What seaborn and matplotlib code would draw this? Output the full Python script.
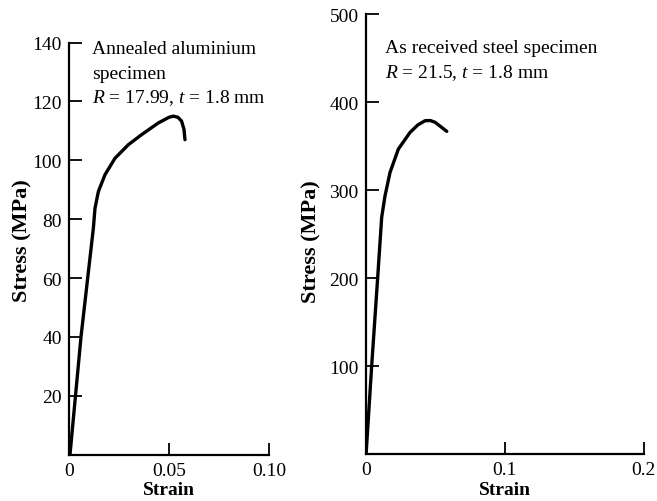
import matplotlib
matplotlib.use("Agg")
import matplotlib.pyplot as plt
import seaborn as sns
import pandas as pd

# Data
al_strain = [0.0005, 0.006, 0.0122, 0.013, 0.0147, 0.018, 0.023, 0.0297, 0.0363, 0.0447, 0.0500, 0.0522, 0.0545, 0.0563, 0.0575, 0.058]
al_stress = [0, 40, 77, 83.7, 89.4, 95.1, 100.7, 105.3, 108.7, 112.7, 114.6, 115, 114.6, 113.3, 110.5, 107]

st_strain = [0.0003, 0.0043, 0.0086, 0.0115, 0.0139, 0.0175, 0.0235, 0.0319, 0.0375, 0.0427, 0.0465, 0.0499, 0.0583]
st_stress = [0, 100, 200, 269, 293.5, 320, 346.6, 365.5, 374, 378.8, 379, 377, 366.7]

al_xticks = [0, 0.05, 0.10]
al_xticklabels = ["0", "0.05", "0.10"]
al_yticks = [20, 40, 60, 80, 100, 120, 140]
st_xticks = [0, 0.1, 0.2]
st_xticklabels = ["0", "0.1", "0.2"]
st_yticks = [100, 200, 300, 400, 500]

al_text = ["Annealed aluminium", "specimen", "$R$ = 17.99, $t$ = 1.8 mm"]
st_text = ["As received steel specimen", "$R$ = 21.5, $t$ = 1.8 mm"]

sns.set_theme(style="ticks")
plt.rcParams["font.family"] = ["Liberation Serif", "DejaVu Serif"]
plt.rcParams["mathtext.fontset"] = "custom"
plt.rcParams["mathtext.it"] = "Liberation Serif:italic"
plt.rcParams["mathtext.rm"] = "Liberation Serif"
plt.rcParams["text.color"] = "black"
plt.rcParams["axes.labelcolor"] = "black"

fig = plt.figure(figsize=(6.57, 5.02), dpi=100)
ax1 = fig.add_axes([0.105, 0.0922, 0.3044, 0.8211])
ax2 = fig.add_axes([0.5566, 0.0936, 0.4234, 0.8764])

df1 = pd.DataFrame({"strain": al_strain, "stress": al_stress})
df2 = pd.DataFrame({"strain": st_strain, "stress": st_stress})

for ax, df in [(ax1, df1), (ax2, df2)]:
    sns.lineplot(data=df, x="strain", y="stress", ax=ax, color="black", lw=2.4,
                 sort=False, estimator=None, solid_joinstyle="round", solid_capstyle="round")

for ax, xt, xtl, yt, xmax, ymax in [
    (ax1, al_xticks, al_xticklabels, al_yticks, 0.10, 140),
    (ax2, st_xticks, st_xticklabels, st_yticks, 0.2, 500),
]:
    ax.set_xlim(0, xmax)
    ax.set_ylim(0, ymax)
    ax.set_xticks(xt)
    ax.set_xticklabels(xtl)
    ax.set_yticks(yt)
    ax.set_yticklabels([str(v) for v in yt])
    sns.despine(ax=ax)
    for s in ("left", "bottom"):
        ax.spines[s].set_linewidth(1.6)
        ax.spines[s].set_color("black")
    ax.tick_params(direction="in", length=9, width=1.3, labelsize=14, pad=5,
                   colors="black", labelcolor="black")
    ax.set_xlabel("Strain", fontsize=14, fontweight="bold", labelpad=2)
    ax.set_ylabel("Stress (MPa)", fontsize=16, fontweight="bold")

ax1.yaxis.set_label_coords(-0.185, 0.521)
ax2.yaxis.set_label_coords(-0.16, 0.484)

# annotations (axes fraction, baseline positions)
for t, y in zip(al_text, [0.975, 0.914, 0.855]):
    ax1.text(0.115, y, t, transform=ax1.transAxes, fontsize=14, va="baseline", ha="left", color="black")
for t, y in zip(st_text, [0.9136, 0.857]):
    ax2.text(0.069, y, t, transform=ax2.transAxes, fontsize=14, va="baseline", ha="left", color="black")

fig.savefig("out.png", dpi=100)
